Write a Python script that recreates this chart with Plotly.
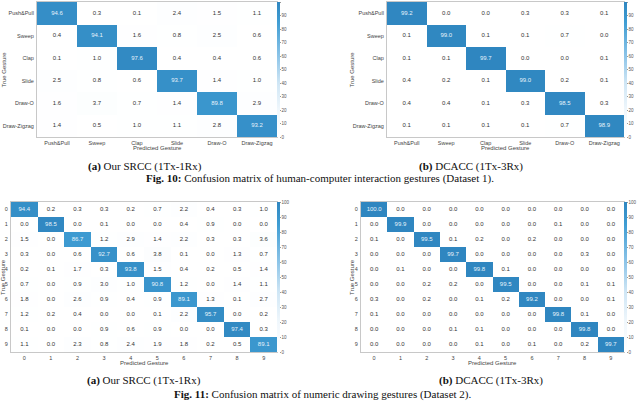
import plotly.graph_objects as go

# ---------------- data ----------------
gestures = ["Push&Pull", "Sweep", "Clap", "Slide", "Draw-O", "Draw-Zigzag"]
digits = ["0", "1", "2", "3", "4", "5", "6", "7", "8", "9"]

srcc_hci = [
    [94.6, 0.3, 0.1, 2.4, 1.5, 1.1],
    [0.4, 94.1, 1.6, 0.8, 2.5, 0.6],
    [0.1, 1.0, 97.6, 0.4, 0.4, 0.6],
    [2.5, 0.8, 0.6, 93.7, 1.4, 1.0],
    [1.6, 3.7, 0.7, 1.4, 89.8, 2.9],
    [1.4, 0.5, 1.0, 1.1, 2.8, 93.2],
]
dcacc_hci = [
    [99.2, 0.0, 0.0, 0.3, 0.3, 0.1],
    [0.1, 99.0, 0.1, 0.1, 0.7, 0.0],
    [0.1, 0.1, 99.7, 0.0, 0.0, 0.1],
    [0.4, 0.2, 0.1, 99.0, 0.2, 0.1],
    [0.4, 0.4, 0.1, 0.3, 98.5, 0.3],
    [0.1, 0.1, 0.1, 0.1, 0.7, 98.9],
]
srcc_num = [
    [94.4, 0.2, 0.3, 0.3, 0.2, 0.7, 2.2, 0.4, 0.3, 1.0],
    [0.0, 98.5, 0.0, 0.1, 0.0, 0.0, 0.4, 0.9, 0.0, 0.0],
    [1.5, 0.0, 86.7, 1.2, 2.9, 1.4, 2.2, 0.3, 0.3, 3.6],
    [0.3, 0.0, 0.6, 92.7, 0.6, 3.8, 0.1, 0.0, 1.3, 0.7],
    [0.2, 0.1, 1.7, 0.3, 93.8, 1.5, 0.4, 0.2, 0.5, 1.4],
    [0.7, 0.0, 0.9, 3.0, 1.0, 90.8, 1.2, 0.0, 1.4, 1.1],
    [1.8, 0.0, 2.6, 0.9, 0.4, 0.9, 89.1, 1.3, 0.1, 2.7],
    [1.2, 0.2, 0.4, 0.0, 0.0, 0.1, 2.2, 95.7, 0.0, 0.2],
    [0.1, 0.0, 0.0, 0.9, 0.6, 0.9, 0.0, 0.0, 97.4, 0.3],
    [1.1, 0.0, 2.3, 0.8, 2.4, 1.9, 1.8, 0.2, 0.5, 89.1],
]
dcacc_num = [
    [100.0, 0.0, 0.0, 0.0, 0.0, 0.0, 0.0, 0.0, 0.0, 0.0],
    [0.0, 99.9, 0.0, 0.0, 0.0, 0.0, 0.0, 0.1, 0.0, 0.0],
    [0.1, 0.0, 99.5, 0.1, 0.2, 0.0, 0.2, 0.0, 0.0, 0.0],
    [0.0, 0.0, 0.0, 99.7, 0.0, 0.0, 0.0, 0.0, 0.3, 0.0],
    [0.0, 0.1, 0.0, 0.0, 99.8, 0.1, 0.0, 0.0, 0.0, 0.0],
    [0.0, 0.0, 0.2, 0.2, 0.0, 99.5, 0.0, 0.0, 0.1, 0.1],
    [0.3, 0.0, 0.2, 0.0, 0.1, 0.2, 99.2, 0.0, 0.0, 0.1],
    [0.1, 0.0, 0.0, 0.0, 0.0, 0.0, 0.0, 99.8, 0.1, 0.0],
    [0.0, 0.0, 0.0, 0.1, 0.1, 0.0, 0.0, 0.0, 99.8, 0.0],
    [0.0, 0.0, 0.0, 0.0, 0.1, 0.0, 0.1, 0.0, 0.2, 99.7],
]
cbar_ticks = [0, 10, 20, 30, 40, 50, 60, 70, 80, 90, 100]

sub_captions = ["<b>(a)</b> Our SRCC (1Tx-1Rx)", "<b>(b)</b> DCACC (1Tx-3Rx)"]
fig_captions = [
    "<b>Fig. 10:</b> Confusion matrix of human-computer interaction gestures (Dataset 1).",
    "<b>Fig. 11:</b> Confusion matrix of numeric drawing gestures (Dataset 2).",
]

# ---------------- layout helpers ----------------
W, H = 640, 402
def px(x):
    return x / W
def py(y):
    return 1 - y / H

colorscale = [
    [0.0, "#ffffff"],
    [0.2, "#f0f7fc"],
    [0.4, "#cfe6f5"],
    [0.6, "#8cc4e8"],
    [0.85, "#3f9dd3"],
    [1.0, "#2f86c0"],
]

panels = [
    (srcc_hci, gestures, (37, 277, 2, 137), 4),
    (dcacc_hci, gestures, (387, 624, 2, 137), 352),
    (srcc_num, digits, (11, 277, 202, 352), 3),
    (dcacc_num, digits, (361, 624, 202, 352), 352),
]

fig = go.Figure()
annotations = []
layout_axes = {}
font_main = "Liberation Sans, Arial, sans-serif"
font_serif = "Liberation Serif, Times New Roman, serif"

for i, (z, labels, (l, r, t, b), ytx) in enumerate(panels):
    k = "" if i == 0 else str(i + 1)
    xa, ya = "x" + k, "y" + k
    fig.add_trace(go.Heatmap(
        z=z, x=labels, y=labels, xaxis=xa, yaxis=ya,
        zmin=0, zmax=100, colorscale=colorscale, xgap=0, ygap=0,
        hoverinfo="skip",
        colorbar=dict(
            x=px(r), xanchor="left", y=py(t), yanchor="top",
            len=(b - t) / H, lenmode="fraction", thickness=3,
            outlinewidth=0, xpad=0, ypad=0,
            tickvals=cbar_ticks, ticks="outside", ticklen=1,
            tickcolor="#999", tickwidth=0.6,
            tickfont=dict(size=4.5, color="#555", family=font_main),
        ),
    ))
    xs, ys, txt, cols = [], [], [], []
    for ri, row in enumerate(z):
        for ci, v in enumerate(row):
            xs.append(labels[ci]); ys.append(labels[ri])
            txt.append(f"{v:.1f}")
            cols.append("#e6f3fb" if v > 50 else "#333333")
    fig.add_trace(go.Scatter(
        x=xs, y=ys, text=txt, mode="text", xaxis=xa, yaxis=ya,
        textfont=dict(size=6, color=cols, family=font_main),
        hoverinfo="skip", showlegend=False,
    ))
    axn = "xaxis" + k
    ayn = "yaxis" + k
    layout_axes[axn] = dict(
        domain=[px(l), px(r)], anchor=ya, type="category",
        showgrid=False, zeroline=False, showline=True, mirror=True,
        linecolor="#c8c8c8", linewidth=1, ticks="",
        tickfont=dict(size=5.5, color="#444", family=font_main),
    )
    layout_axes[ayn] = dict(
        domain=[py(b), py(t)], anchor=xa, type="category",
        autorange="reversed",
        showgrid=False, zeroline=False, showline=True, mirror=True,
        linecolor="#c8c8c8", linewidth=1, ticks="",
        ticklabelstandoff=1,
        tickfont=dict(size=5.5, color="#444", family=font_main),
    )
    xt_y = b + 10.5
    annotations.append(dict(
        text="Predicted Gesture", x=px((l + r) / 2), y=py(xt_y),
        xref="paper", yref="paper", showarrow=False,
        font=dict(size=6, color="#444", family=font_main),
        xanchor="center", yanchor="middle",
    ))
    annotations.append(dict(
        text="True Gesture", x=px(ytx), y=py((t + b) / 2),
        xref="paper", yref="paper", showarrow=False, textangle=-90,
        font=dict(size=6, color="#444", family=font_main),
        xanchor="center", yanchor="middle",
    ))

cap_pos = [(145, 166), (471, 166), (144, 380), (491, 380)]
for j, (cx, cy) in enumerate(cap_pos):
    annotations.append(dict(
        text=sub_captions[j % 2], x=px(cx), y=py(cy), xref="paper", yref="paper",
        showarrow=False, xanchor="center", yanchor="middle",
        font=dict(size=11, color="#111", family=font_serif),
    ))
fig_cap_pos = [(320, 178, 11), (322, 394, 11)]
for j, (cx, cy, fs) in enumerate(fig_cap_pos):
    annotations.append(dict(
        text=fig_captions[j], x=px(cx), y=py(cy), xref="paper", yref="paper",
        showarrow=False, xanchor="center", yanchor="middle", borderpad=0,
        font=dict(size=fs, color="#111", family=font_serif),
    ))

fig.update_layout(
    width=W, height=H, margin=dict(l=0, r=0, t=0, b=0),
    paper_bgcolor="white", plot_bgcolor="white",
    showlegend=False, annotations=annotations, **layout_axes,
)
fig.write_html(
    "out.html",
    config={"displayModeBar": False},
    post_script="document.body.style.margin='0';document.body.style.overflow='hidden';",
)
